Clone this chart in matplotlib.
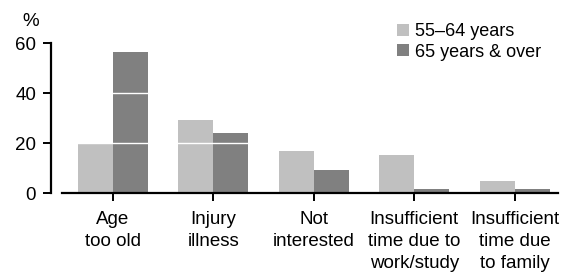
import matplotlib
matplotlib.use("Agg")
import matplotlib.pyplot as plt
import numpy as np

categories = ["Age\ntoo old", "Injury\nillness", "Not\ninterested",
              "Insufficient\ntime due to\nwork/study", "Insufficient\ntime due\nto family"]
series_names = ["55\u201364 years", "65 years & over"]
values_55_64 = [19.5, 29.2, 16.8, 15.2, 4.8]
values_65_over = [56.3, 24.0, 9.2, 1.6, 1.6]
yticks = [0, 20, 40, 60]
colors = ["#c0c0c0", "#808080"]

W, H = 562, 275
plt.rcParams['font.family'] = ['Liberation Sans', 'DejaVu Sans']
fig = plt.figure(figsize=(W / 100, H / 100), dpi=100)
fs = 13.5
fs_leg = 13

ax_left, ax_right = 51, 558
ax_top, ax_bottom = 43, 193
ax = fig.add_axes([ax_left / W, 1 - ax_bottom / H, (ax_right - ax_left) / W, (ax_bottom - ax_top) / H])

x = np.arange(len(categories))
bw = 0.35
b1 = ax.bar(x - bw / 2, values_55_64, width=bw, color=colors[0], label=series_names[0], zorder=1)
b2 = ax.bar(x + bw / 2, values_65_over, width=bw, color=colors[1], label=series_names[1], zorder=1)

for yv in yticks[1:]:
    ax.axhline(yv, color="white", lw=1.0, zorder=2)

px_per_cat = 100.5
x0 = 112.7
ax.set_xlim((ax_left - x0) / px_per_cat, (ax_right - x0) / px_per_cat)
ax.set_ylim(0, 60)

for s in ["top", "right"]:
    ax.spines[s].set_visible(False)
ax.spines["left"].set_linewidth(1.6)
ax.spines["bottom"].set_linewidth(1.6)
ax.spines["bottom"].set_bounds((62 - x0) / px_per_cat, (ax_right - x0) / px_per_cat)

ax.set_xticks(x)
ax.set_xticklabels(categories, fontsize=fs, linespacing=1.37)
ax.set_yticks(yticks)
ax.set_yticklabels([str(v) for v in yticks], fontsize=fs)
ax.tick_params(axis="x", direction="out", length=5.8, width=1.4, pad=7.3)
ax.tick_params(axis="y", direction="out", length=5.8, width=1.4, pad=5)

fig.text(31 / W, 1 - 21 / H, "%", ha="center", va="center", fontsize=fs)

leg = ax.legend(handles=[b1, b2], loc="upper left", bbox_to_anchor=(397 / W, 1 - 23 / H),
                bbox_transform=fig.transFigure, frameon=False, fontsize=fs_leg,
                handlelength=0.67, handleheight=0.67, handletextpad=0.33,
                labelspacing=0.2, borderpad=0, borderaxespad=0)

fig.savefig("out.png", dpi=100)
